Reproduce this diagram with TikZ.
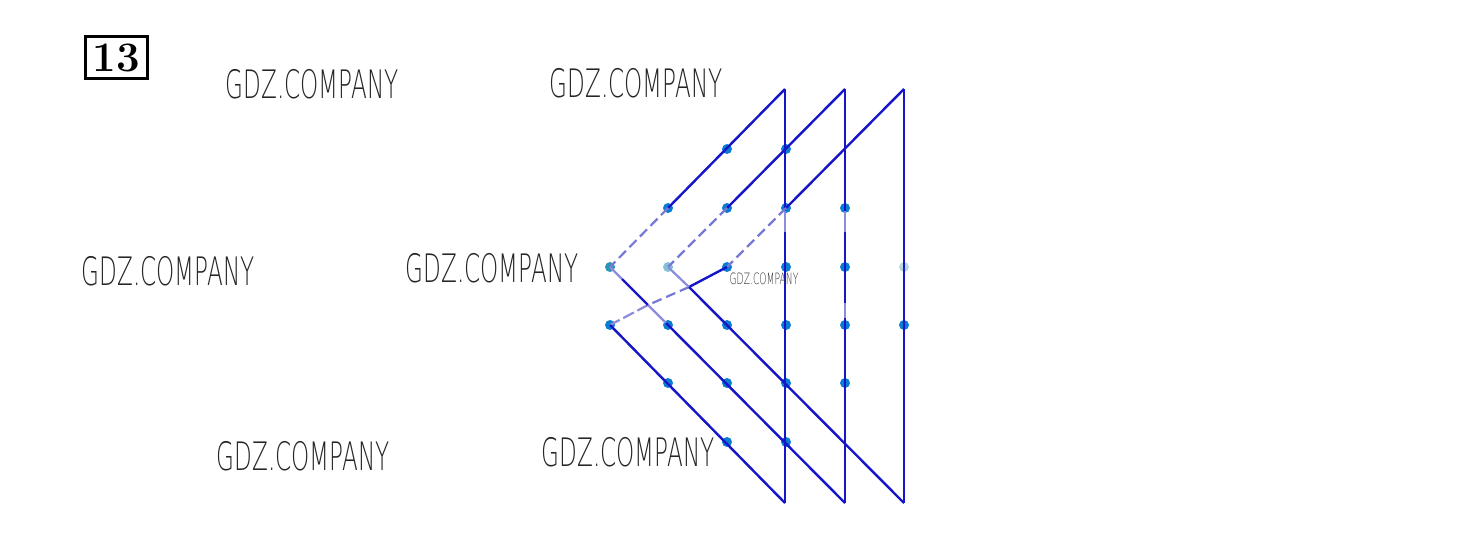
\documentclass[tikz,border=0pt]{standalone}
\usepackage{fontspec}
\usepackage{graphicx}
\newfontfamily\gdzfont{DejaVu Sans ExtraLight}
\definecolor{lineblue}{RGB}{22,22,200}
\definecolor{hidblue}{RGB}{120,120,215}
\definecolor{liteblue}{RGB}{140,140,222}
\definecolor{dotblue}{RGB}{10,125,210}
\definecolor{dotteal}{RGB}{40,150,180}
\definecolor{dotlite}{RGB}{130,195,215}
\definecolor{dotfaint}{RGB}{185,215,225}
\newcommand{\gdzt}{\scalebox{0.59}[1]{GDZ.COMPANY}}
\begin{document}
\begin{tikzpicture}[x=0.5pt,y=-0.5pt,
  edge/.style={draw=lineblue, line width=1.2pt},
  hid/.style={draw=hidblue, line width=1.1pt, dash pattern=on 5pt off 2.5pt},
  lite/.style={draw=liteblue, line width=1.1pt},
  dot/.style={circle, fill=dotblue, inner sep=0pt, minimum size=5pt},
  wm/.style={inner sep=0pt, text=black!85, font=\gdzfont\fontsize{19.6}{20}\selectfont},
  wmsmall/.style={inner sep=0pt, text=black!80, font=\gdzfont\fontsize{7.8}{8}\selectfont},
  numbox/.style={draw, line width=1.5pt, inner sep=0pt, minimum width=31pt, minimum height=21pt,
    font=\bfseries\fontsize{21}{22}\selectfont}]
\useasboundingbox[fill=white] (0,0) rectangle (1460,537);

% number
\node[numbox] (num) at (116.5,57.5) {13};

% watermarks
\node[wm] (w1) at (312,84) {\gdzt};
\node[wm] (w2) at (636,83) {\gdzt};
\node[wm] (w3) at (168,271) {\gdzt};
\node[wm] (w4) at (492,268) {\gdzt};
\node[wm] (w5) at (303,456) {\gdzt};
\node[wm] (w6) at (628,452) {\gdzt};

% grid dots
\foreach \x/\y in {727/149,786/149,
  668/208,727/208,786/208,845/208,
  727/267,786/267,845/267,
  610/325,668/325,727/325,786/325,845/325,904/325,
  668/383,727/383,786/383,845/383,
  727/442,786/442}
  \node[dot] at (\x,\y) {};
\node[dot, fill=dotteal] at (610,267) {};
\node[dot, fill=dotlite] at (668,267) {};
\node[dot, fill=dotfaint] at (904,267) {};

% vertices
\coordinate (A1) at (785,89);
\coordinate (A2) at (845,89);
\coordinate (A3) at (904,89);
\coordinate (B1) at (785,503);
\coordinate (B2) at (845,503);
\coordinate (B3) at (904,503);
\coordinate (P) at (610,267);
\coordinate (Q) at (668,267);
\coordinate (R) at (727,267);
\coordinate (S) at (610,325);
\coordinate (X) at (648,305);
\coordinate (Y) at (689,287);
\coordinate (U1m) at (668,208);
\coordinate (U2m) at (727,208);
\coordinate (U3m) at (786,208);

% vertical edges
\draw[edge] (A1) -- (785,211);
\draw[lite] (785,211) -- (785,232);
\draw[edge] (785,232) -- (B1);
\draw[edge] (A2) -- (845,211);
\draw[lite] (845,211) -- (845,232);
\draw[edge] (845,232) -- (845,303);
\draw[lite] (845,303) -- (845,318);
\draw[edge] (845,318) -- (B2);
\draw[edge] (A3) -- (B3);

% upper slanted edges
\draw[edge] (A1) -- (U1m);
\draw[hid] (U1m) -- (P);
\draw[edge] (A2) -- (U2m);
\draw[hid] (U2m) -- (Q);
\draw[edge] (A3) -- (U3m);
\draw[hid] (U3m) -- (R);

% connecting edge
\draw[edge] (R) -- (Y);
\draw[hid] (Y) -- (X);
\draw[lite, dash pattern=on 6pt off 2pt] (X) -- (S);

% lower slanted edges
\draw[edge] (S) -- (B1);
\draw[lite] (P) -- (622,279);
\draw[edge] (622,279) -- (X);
\draw[lite] (X) -- (666,323);
\draw[edge] (666,323) -- (B2);
\draw[lite] (Q) -- (Y);
\draw[edge] (Y) -- (B3);

% small watermark
\node[wmsmall] (w7) at (764,279) {\gdzt};
\end{tikzpicture}
\end{document}
